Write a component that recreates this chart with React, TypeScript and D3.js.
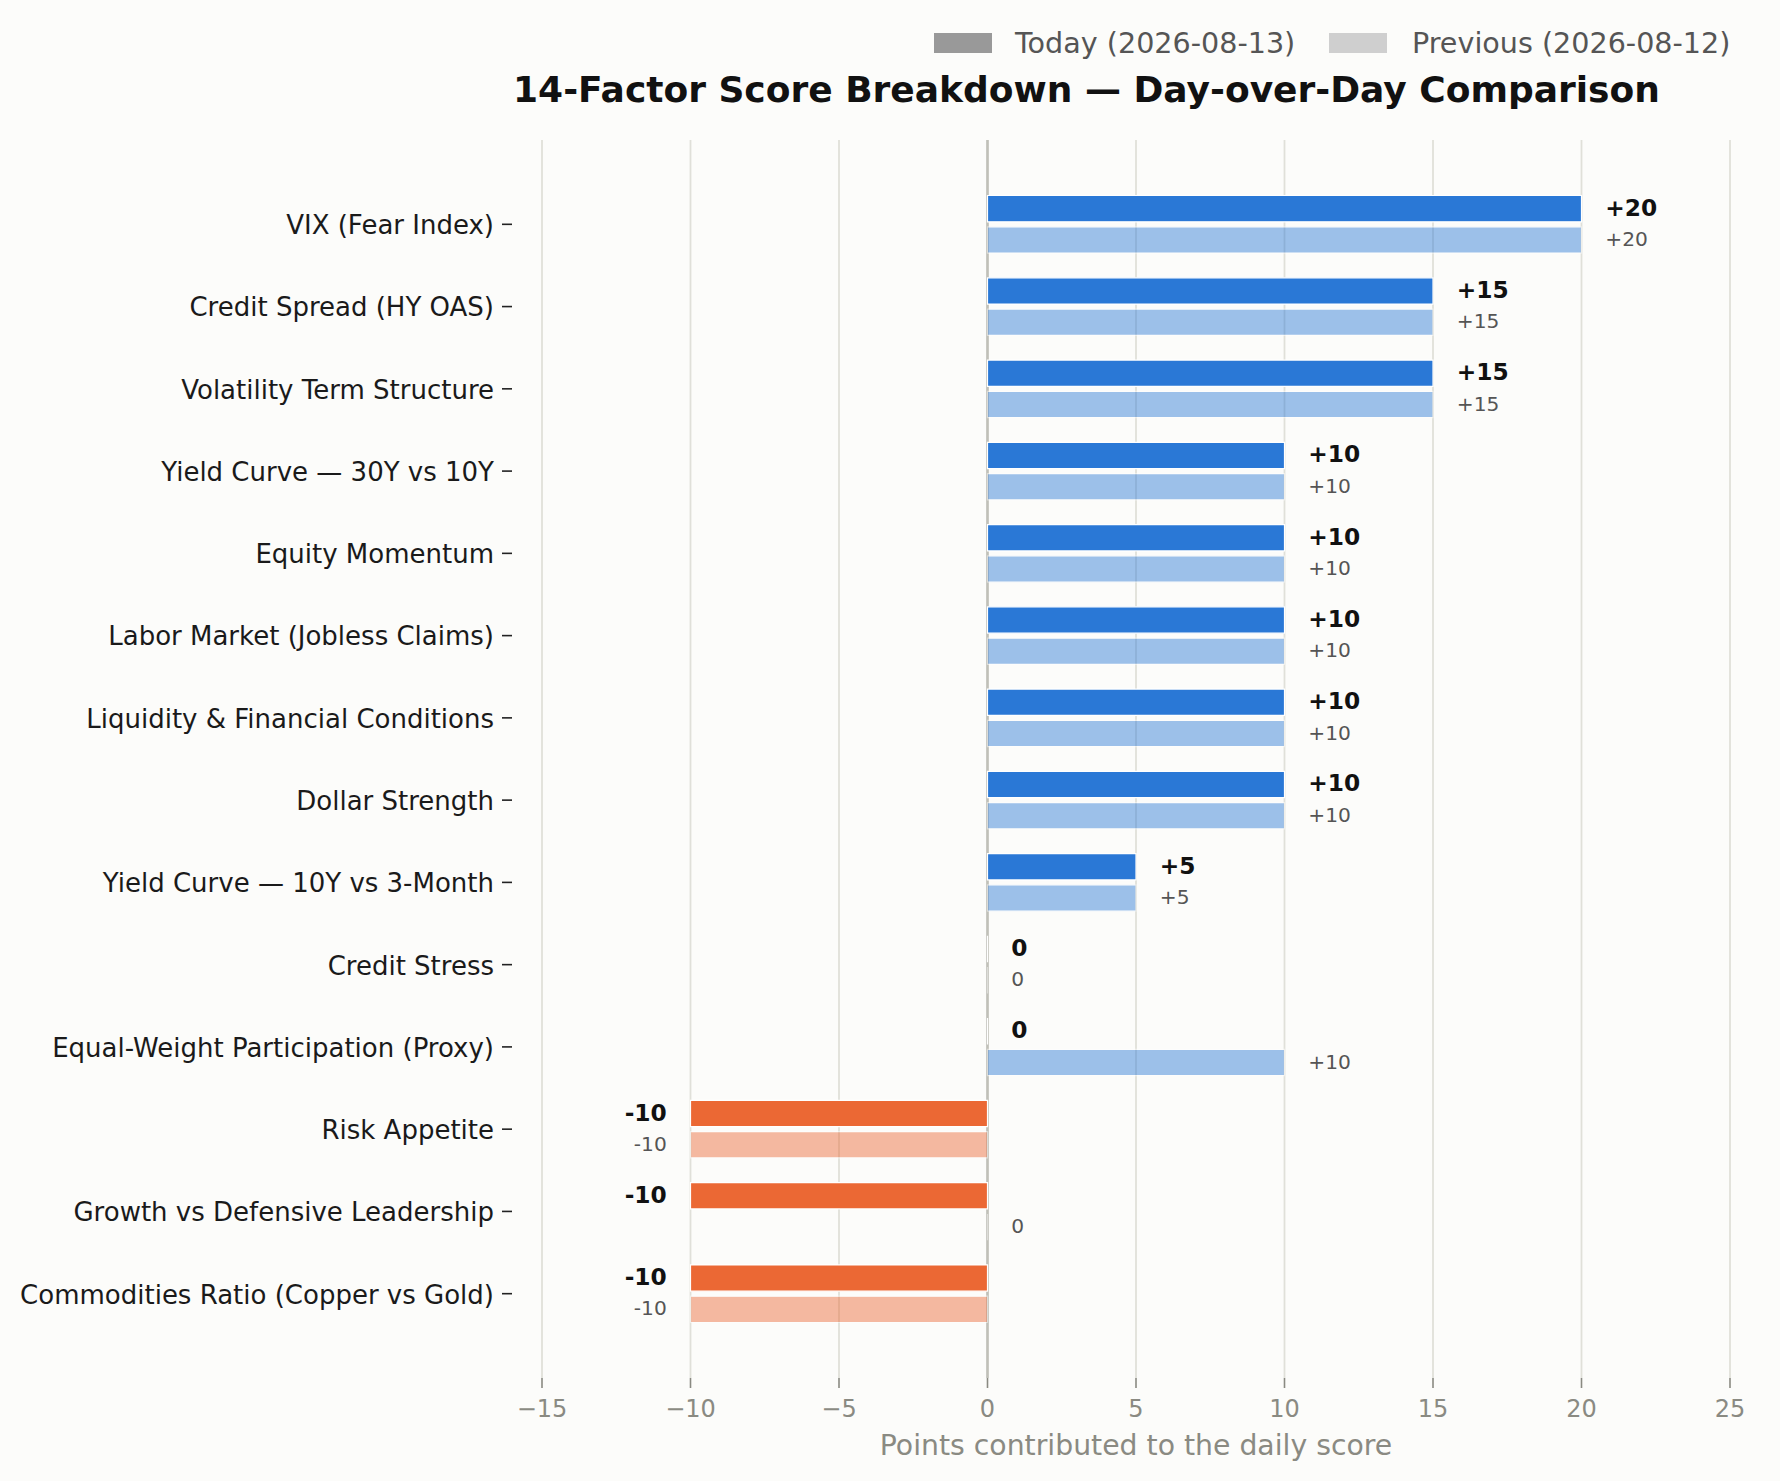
import { scaleLinear } from "d3";

const factors = [
  "VIX (Fear Index)",
  "Credit Spread (HY OAS)",
  "Volatility Term Structure",
  "Yield Curve — 30Y vs 10Y",
  "Equity Momentum",
  "Labor Market (Jobless Claims)",
  "Liquidity & Financial Conditions",
  "Dollar Strength",
  "Yield Curve — 10Y vs 3-Month",
  "Credit Stress",
  "Equal-Weight Participation (Proxy)",
  "Risk Appetite",
  "Growth vs Defensive Leadership",
  "Commodities Ratio (Copper vs Gold)",
];
const todayScores = [20, 15, 15, 10, 10, 10, 10, 10, 5, 0, 0, -10, -10, -10];
const previousScores = [20, 15, 15, 10, 10, 10, 10, 10, 5, 0, 10, -10, 0, -10];
const xTicks = [-15, -10, -5, 0, 5, 10, 15, 20, 25];
const todayLabel = "Today (2026-08-13)";
const previousLabel = "Previous (2026-08-12)";
const title = "14-Factor Score Breakdown — Day-over-Day Comparison";
const xLabel = "Points contributed to the daily score";

const W = 1780;
const H = 1481;
const FONT = "DejaVu Sans, sans-serif";
const BG = "#fcfcfa";
const POS = "#2a78d6";
const NEG = "#eb6834";

const fmt = (v: number) => (v > 0 ? `+${v}` : `${v}`);

export default function App() {
  const x = scaleLinear().domain([-15, 25]).range([542, 1730]);
  const y = scaleLinear().domain([-1.025, 14.025]).range([140, 1378]);
  const top = y.range()[0];
  const bottom = y.range()[1];

  // path instead of rect so zero-width bars still get their white edge
  const barPath = (v: number, y0: number, y1: number) =>
    `M${x(0)},${y(y0)}H${x(v)}V${y(y1)}H${x(0)}Z`;

  return (
    <div style={{ position: "absolute", left: 0, top: 0 }}>
      <svg width={W} height={H} style={{ display: "block" }} fontFamily={FONT}>
        <rect width={W} height={H} fill={BG} />

        {/* legend */}
        <rect x={934} y={33} width={58} height={20} fill="#999999" />
        <text x={1015} y={53} fontSize={28.6} fill="#555">{todayLabel}</text>
        <rect x={1329} y={33} width={58} height={20} fill="#cfcfcf" />
        <text x={1412} y={53} fontSize={28.6} fill="#555">{previousLabel}</text>

        <text x={1086.5} y={102} fontSize={36} fontWeight="bold" fill="#111" textAnchor="middle">
          {title}
        </text>

        {/* grid */}
        {xTicks.map((t) => (
          <line key={t} x1={x(t)} x2={x(t)} y1={top} y2={bottom} stroke="#e0e0d9" strokeWidth={1.8} />
        ))}
        <line x1={x(0)} x2={x(0)} y1={top} y2={bottom} stroke="#c0c0b8" strokeWidth={2.6} />

        {/* previous bars */}
        {previousScores.map((v, i) => (
          <path
            key={`p${i}`}
            d={barPath(v, i + 0.03, i + 0.35)}
            fill={v < 0 ? NEG : POS}
            stroke="#ffffff"
            strokeWidth={1.2}
            opacity={0.45}
          />
        ))}
        {/* today bars */}
        {todayScores.map((v, i) => (
          <path
            key={`t${i}`}
            d={barPath(v, i - 0.35, i - 0.03)}
            fill={v < 0 ? NEG : POS}
            stroke="#ffffff"
            strokeWidth={1.2}
          />
        ))}

        {/* value labels */}
        {todayScores.map((v, i) => (
          <text
            key={`tl${i}`}
            x={v < 0 ? x(v - 0.8) : x(v + 0.8)}
            y={y(i - 0.19)}
            dy="0.3em"
            fontSize={23.3}
            fontWeight="bold"
            fill="#111"
            textAnchor={v < 0 ? "end" : "start"}
          >
            {fmt(v)}
          </text>
        ))}
        {previousScores.map((v, i) => (
          <text
            key={`pl${i}`}
            x={v < 0 ? x(v - 0.8) : x(v + 0.8)}
            y={y(i + 0.19)}
            dy="0.3em"
            fontSize={20.2}
            fill="#555"
            textAnchor={v < 0 ? "end" : "start"}
          >
            {fmt(v)}
          </text>
        ))}

        {/* y axis */}
        {factors.map((f, i) => (
          <g key={f}>
            <line x1={502} x2={512} y1={y(i)} y2={y(i)} stroke="#222" strokeWidth={1.6} />
            <text x={494} y={y(i)} dy="0.38em" fontSize={26} fill="#1a1a1a" textAnchor="end">
              {f}
            </text>
          </g>
        ))}

        {/* x axis */}
        {xTicks.map((t) => (
          <g key={`xt${t}`}>
            <line x1={x(t)} x2={x(t)} y1={bottom} y2={bottom + 10} stroke="#8a8a82" strokeWidth={1.6} />
            <text x={x(t)} y={1416.5} fontSize={24} fill="#8a8a82" textAnchor="middle">
              {t < 0 ? `\u2212${Math.abs(t)}` : `${t}`}
            </text>
          </g>
        ))}
        <text x={(x.range()[0] + x.range()[1]) / 2} y={1455} fontSize={28.3} fill="#8a8a82" textAnchor="middle">
          {xLabel}
        </text>
      </svg>
    </div>
  );
}
